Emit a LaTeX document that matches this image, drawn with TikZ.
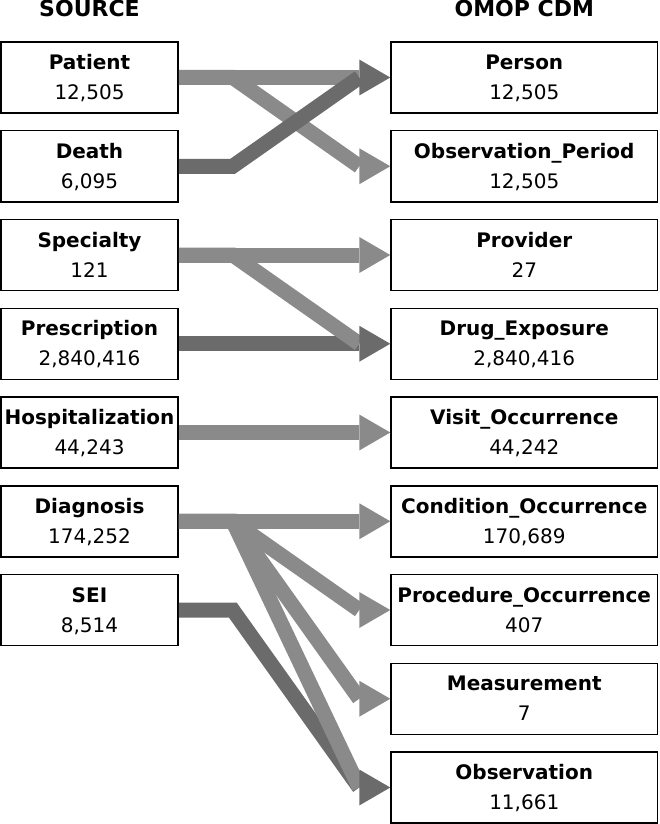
\documentclass[tikz,border=0pt]{standalone}
\usepackage{fontspec}
\setmainfont{DejaVu Sans}
\definecolor{lightband}{HTML}{8A8A8A}
\definecolor{darkband}{HTML}{6B6B6B}
\newcommand\ahead[2]{\fill[#1] ([shift={(-31pt,18pt)}]#2.west) -- (#2.west) -- ([shift={(-31pt,-18pt)}]#2.west) -- cycle;}
\newcommand\srcbox[4]{%
  \node[lbox] (#1) at (89.5,#2) {};
  \node[nm] (#1n) at ([yshift=8pt]#1.center) {#3};
  \node[val] (#1v) at ([yshift=-22pt]#1.center) {#4};}
\newcommand\dstbox[4]{%
  \node[rbox] (#1) at (524.25,#2) {};
  \node[nm] (#1n) at ([yshift=8pt]#1.center) {#3};
  \node[val] (#1v) at ([yshift=-22pt]#1.center) {#4};}
\tikzset{
  box/.style={draw=black, line width=1.5pt, minimum height=71pt, inner sep=0pt},
  lbox/.style={box, minimum width=177pt},
  rbox/.style={box, minimum width=266.5pt},
  nm/.style={font=\bfseries\fontsize{20}{24}\selectfont, anchor=base, inner sep=0pt},
  val/.style={font=\fontsize{20}{24}\selectfont, anchor=base, inner sep=0pt},
  title/.style={font=\bfseries\fontsize{22}{26}\selectfont, anchor=base, inner sep=0pt},
  band/.style={line width=15pt, line join=miter},
  lb/.style={band, draw=lightband},
  db/.style={band, draw=darkband}
}
\begin{document}
\begin{tikzpicture}[x=1pt,y=-1pt]
\useasboundingbox (0,0) rectangle (659,824);
\node[title] (srct) at (89.5,17) {SOURCE};
\node[title] (omopt) at (524.25,17) {OMOP CDM};
% source boxes
\srcbox{pat}{77.5}{Patient}{12,505}
\srcbox{dea}{166.25}{Death}{6,095}
\srcbox{spe}{255}{Specialty}{121}
\srcbox{pre}{343.75}{Prescription}{2,840,416}
\srcbox{hos}{432.5}{Hospitalization}{44,243}
\srcbox{dia}{521.25}{Diagnosis}{174,252}
\srcbox{sei}{610}{SEI}{8,514}
% target boxes
\dstbox{per}{77.5}{Person}{12,505}
\dstbox{obp}{166.25}{Observation\_Period}{12,505}
\dstbox{pro}{255}{Provider}{27}
\dstbox{dru}{343.75}{Drug\_Exposure}{2,840,416}
\dstbox{vis}{432.5}{Visit\_Occurrence}{44,242}
\dstbox{con}{521.25}{Condition\_Occurrence}{170,689}
\dstbox{prc}{610}{Procedure\_Occurrence}{407}
\dstbox{mea}{698.75}{Measurement}{7}
\dstbox{obs}{787.5}{Observation}{11,661}
% Patient / Death
\draw[lb] (pat.east) -- ([xshift=-31pt]per.west);
\draw[lb] (pat.east) -- ++(54,0) -- ([xshift=-31pt]obp.west);
\draw[db] (dea.east) -- ++(54,0) -- ([xshift=-31pt]per.west);
\ahead{lightband}{obp}
\ahead{darkband}{per}
% Specialty / Prescription
\draw[lb] (spe.east) -- ([xshift=-31pt]pro.west);
\draw[db] (pre.east) -- ([xshift=-31pt]dru.west);
\draw[lb] (spe.east) -- ++(54,0) -- ([xshift=-31pt]dru.west);
\ahead{lightband}{pro}
\ahead{darkband}{dru}
% Hospitalization
\draw[lb] (hos.east) -- ([xshift=-31pt]vis.west);
\ahead{lightband}{vis}
% SEI / Diagnosis
\draw[db] (sei.east) -- ++(54,0) -- ([xshift=-31pt]obs.west);
\draw[lb] (dia.east) -- ([xshift=-31pt]con.west);
\draw[lb] (dia.east) -- ++(54,0) -- ([xshift=-31pt]prc.west);
\draw[lb] (dia.east) -- ++(54,0) -- ([xshift=-31pt]mea.west);
\draw[lb] (dia.east) -- ++(54,0) -- ([xshift=-31pt]obs.west);
\ahead{lightband}{con}
\ahead{lightband}{prc}
\ahead{lightband}{mea}
\ahead{darkband}{obs}
\end{tikzpicture}
\end{document}
